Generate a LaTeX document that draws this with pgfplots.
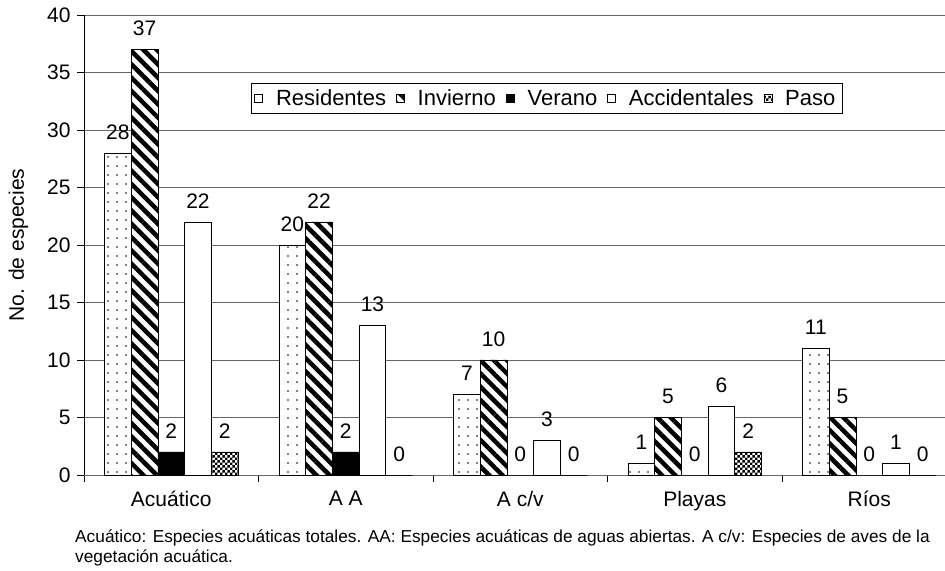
\documentclass[border=0pt]{standalone}
\usepackage{fontspec}
\setmainfont{Liberation Sans}
\usepackage{pgfplots}
\pgfplotsset{compat=1.18}
\usetikzlibrary{patterns,patterns.meta}

\tikzdeclarepattern{
  name=checks,
  type=uncolored,
  bounding box={(0,0) and (5.4bp,5.4bp)},
  tile size={(5.4bp,5.4bp)},
  code={
    \pgfpathrectangle{\pgfpoint{0bp}{0bp}}{\pgfpoint{2.7bp}{2.7bp}}
    \pgfpathrectangle{\pgfpoint{2.7bp}{2.7bp}}{\pgfpoint{2.7bp}{2.7bp}}
    \pgfusepath{fill}
  }
}

\newcommand{\tickfont}{\fontsize{21bp}{25bp}\selectfont}

\begin{document}
\begin{tikzpicture}
\begin{axis}[
    name=ax,
    scale only axis,
    width=861bp, height=460bp,
    ybar=0pt, bar width=0.153,
    xmin=-0.5, xmax=4.434,
    ymin=0, ymax=40,
    ytick={0,5,...,40},
    xtick={0,...,4},
    xticklabels={Acuático, A A, A c/v, Playas, Ríos},
    minor xtick={-0.5,0.5,1.5,2.5,3.5},
    major x tick style={draw=none},
    minor tick length=7bp, major tick length=7bp,
    tick align=outside,
    tick style={black, line width=0.8bp},
    axis x line*=bottom, axis y line*=left,
    x axis line style={gray!80!black, line width=1bp},
    y axis line style={black, line width=0.8bp},
    ymajorgrids, grid style={gray!80!black, line width=0.8bp},
    /pgf/number format/assume math mode=true,
    ticklabel style={font=\tickfont},
    yticklabel style={xshift=-3bp},
    xticklabel style={yshift=-6bp},
    ylabel={No. de especies},
    ylabel style={font=\tickfont, yshift=12bp},
    nodes near coords,
    every node near coord/.append style={font=\tickfont, yshift=10bp,
        /pgf/number format/assume math mode=true},
    clip=false,
    every axis plot/.append style={draw=black, line width=0.8bp},
    legend columns=-1,
    legend style={at={(rel axis cs:0.194,0.853)}, anchor=north west,
        draw=black, line width=0.8bp, font=\fontsize{22bp}{26bp}\selectfont,
        inner xsep=3bp, inner ysep=4.5bp,
        nodes={inner xsep=4bp, inner ysep=2bp},
        /tikz/every odd column/.append style={column sep=9bp},
        /tikz/every even column/.append style={column sep=6bp}},
    legend image code/.code={\draw[#1, line width=0.6bp] (0bp,-4bp) rectangle (8bp,4bp);},
]
\addplot[fill=white, postaction={pattern={Dots[distance=9bp, radius=0.8bp]}}]
  coordinates {(0,28) (1,20) (2,7) (3,1) (4,11)};
\addplot[fill=white, postaction={pattern={Lines[angle=-45, distance=9.4bp, line width=4.5bp]}}]
  coordinates {(0,37) (1,22) (2,10) (3,5) (4,5)};
\addplot[fill=black]
  coordinates {(0,2) (1,2) (2,0) (3,0) (4,0)};
\addplot[fill=white]
  coordinates {(0,22) (1,13) (2,3) (3,6) (4,1)};
\addplot[fill=white, postaction={pattern=checks}]
  coordinates {(0,2) (1,0) (2,0) (3,2) (4,0)};
\legend{Residentes, Invierno, Verano, Accidentales, Paso}
\end{axis}
\node[anchor=north west, align=left, inner sep=0pt,
      font=\fontsize{17.3bp}{20bp}\selectfont]
  at ([shift={(-9bp,-55bp)}]ax.south west)
  {Acuático: Especies acuáticas totales. AA: Especies acuáticas de aguas abiertas. A c/v: Especies de aves de la\\
   vegetación acuática.};
\pgfresetboundingbox
\path ([shift={(-84bp,-96bp)}]ax.south west) rectangle ([shift={(0bp,15bp)}]ax.north east);
\end{tikzpicture}
\end{document}
